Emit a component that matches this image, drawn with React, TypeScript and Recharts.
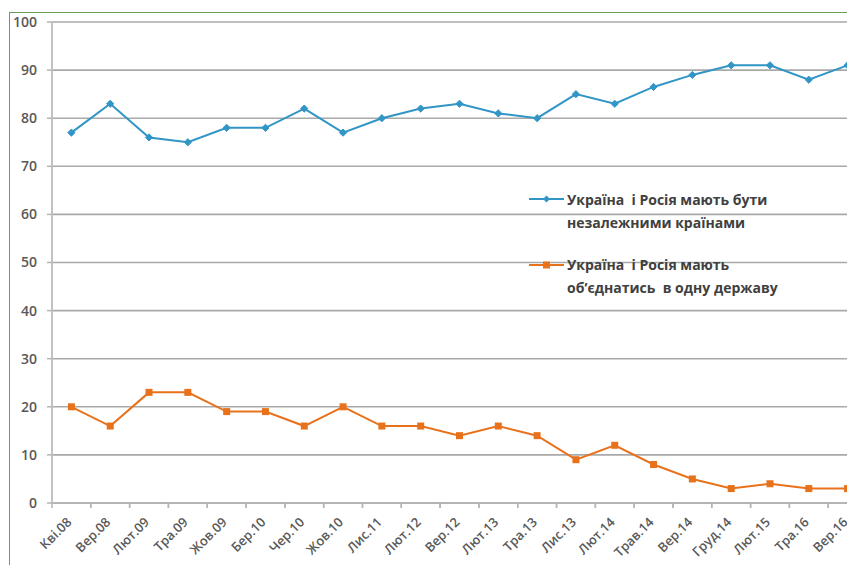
import React from "react";
import { LineChart, Line, XAxis, YAxis, CartesianGrid, Legend } from "recharts";

const categories = [
  "Кві.08", "Вер.08", "Лют.09", "Тра.09", "Жов.09", "Бер.10", "Чер.10", "Жов.10",
  "Лис.11", "Лют.12", "Вер.12", "Лют.13", "Тра.13", "Лис.13", "Лют.14", "Трав.14",
  "Вер.14", "Груд.14", "Лют.15", "Тра.16", "Вер.16",
];
const independentValues = [77, 83, 76, 75, 78, 78, 82, 77, 80, 82, 83, 81, 80, 85, 83, 86.5, 89, 91, 91, 88, 91];
const unifyValues = [20, 16, 23, 23, 19, 19, 16, 20, 16, 16, 14, 16, 14, 9, 12, 8, 5, 3, 4, 3, 3];
const yTicks = [0, 10, 20, 30, 40, 50, 60, 70, 80, 90, 100];
const seriesNames = {
  independent: ["Україна  і Росія мають бути", "незалежними країнами"],
  unify: ["Україна  і Росія мають", "об’єднатись  в одну державу"],
};

const BLUE = "#3195c6";
const ORANGE = "#e8721c";
const FONT = "'Open Sans', 'Liberation Sans', sans-serif";

const data = categories.map((c, i) => ({
  name: c,
  independent: independentValues[i],
  unify: unifyValues[i],
}));

const CHART_W = 867;
const CHART_H = 560;
const MARGIN = { top: 9, right: 10, left: 0, bottom: 0 };
const Y_W = 42;
const BAND = (CHART_W - MARGIN.left - MARGIN.right - Y_W) / categories.length;

const Diamond = (props: any) => {
  const { cx, cy, index } = props;
  if (cx == null || cy == null) return null;
  const r = 3.6;
  return (
    <polygon
      key={`d-${index}`}
      points={`${cx},${cy - r} ${cx + r},${cy} ${cx},${cy + r} ${cx - r},${cy}`}
      fill={BLUE}
      stroke={BLUE}
    />
  );
};

const Square = (props: any) => {
  const { cx, cy, index } = props;
  if (cx == null || cy == null) return null;
  const s = 7;
  return <rect key={`s-${index}`} x={cx - s / 2} y={cy - s / 2} width={s} height={s} fill={ORANGE} />;
};

const XTick = (props: any) => {
  const { x, y, payload } = props;
  const tx = x + 1;
  const ty = y + 20;
  return (
    <g>
      <line x1={x - BAND / 2} x2={x - BAND / 2} y1={y} y2={y + 5} stroke="#b5b5b5" strokeWidth={1.5} />
      <line x1={x + BAND / 2} x2={x + BAND / 2} y1={y} y2={y + 5} stroke="#b5b5b5" strokeWidth={1.5} />
      <text
        x={tx}
        y={ty}
        textAnchor="end"
        transform={`rotate(-45, ${tx}, ${ty})`}
        fontSize={13}
        fontWeight={600}
        fontFamily={FONT}
        fill="#595959"
      >
        {payload.value}
      </text>
    </g>
  );
};

const LegendContent = () => {
  const entry = (key: "independent" | "unify", color: string, square: boolean) => (
    <div style={{ display: "flex", alignItems: "flex-start", marginBottom: 21 }}>
      <svg width={40} height={20} style={{ flex: "none" }}>
        <line x1={2} x2={37} y1={10} y2={10} stroke={color} strokeWidth={2} />
        {square ? (
          <rect x={16} y={6.5} width={7} height={7} fill={color} />
        ) : (
          <polygon points="19.5,6.5 23,10 19.5,13.5 16,10" fill={color} />
        )}
      </svg>
      <div style={{ fontFamily: FONT, fontSize: 14, fontWeight: 700, color: "#404040", lineHeight: "23px", marginTop: -1.5, whiteSpace: "pre" }}>
        <div>{seriesNames[key][0]}</div>
        <div>{seriesNames[key][1]}</div>
      </div>
    </div>
  );
  return (
    <div>
      {entry("independent", BLUE, false)}
      {entry("unify", ORANGE, true)}
    </div>
  );
};

export default function App() {
  return (
    <div style={{ position: "absolute", left: 0, top: 0, width: 847, height: 565, overflow: "hidden", background: "#fff" }}>
      <div style={{ position: "absolute", left: 9, top: 12, width: 900, height: 600, border: "1px solid #6a9f58" }}>
        <LineChart width={CHART_W} height={CHART_H} data={data} margin={MARGIN}>
          <CartesianGrid vertical={false} stroke="#a9a9a9" strokeWidth={1.6} />
          <XAxis
            dataKey="name"
            scale="band"
            interval={0}
            height={70}
            tickLine={false}
            tickSize={0}
            tickMargin={0}
            axisLine={{ stroke: "#b5b5b5", strokeWidth: 2 }}
            tick={<XTick />}
          />
          <YAxis
            width={Y_W}
            domain={[0, 100]}
            ticks={yTicks}
            interval={0}
            tickSize={5}
            tickMargin={10}
            axisLine={{ stroke: "#c2c2c2", strokeWidth: 2 }}
            tickLine={{ stroke: "#b5b5b5", strokeWidth: 1.5 }}
            tick={{ fontSize: 14, fontFamily: FONT, fill: "#595959", fontWeight: 600 }}
          />
          <Legend
            layout="horizontal"
            verticalAlign="middle"
            align="center"
            content={<LegendContent />}
            wrapperStyle={{ position: "absolute", left: 517, top: 176, width: 320 }}
          />
          <Line
            type="linear"
            dataKey="independent"
            stroke={BLUE}
            strokeWidth={2}
            dot={Diamond}
            activeDot={false}
            isAnimationActive={false}
          />
          <Line
            type="linear"
            dataKey="unify"
            stroke={ORANGE}
            strokeWidth={2}
            dot={Square}
            activeDot={false}
            isAnimationActive={false}
          />
        </LineChart>
      </div>
    </div>
  );
}
